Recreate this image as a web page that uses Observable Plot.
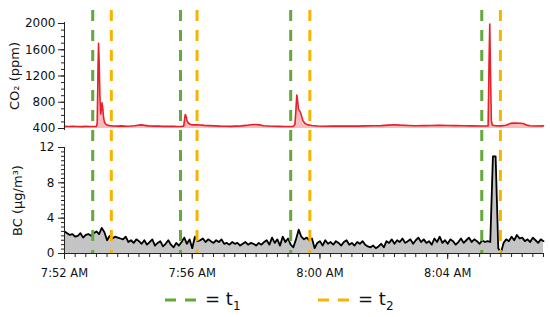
<!DOCTYPE html>
<html><head><meta charset="utf-8">
<script src="https://cdn.jsdelivr.net/npm/d3@7"></script>
<script src="https://cdn.jsdelivr.net/npm/@observablehq/plot@0.6"></script>
<style>
body{margin:0;background:#fff;font-family:"DejaVu Sans",sans-serif;}
#chart{width:550px;height:317px;position:relative;overflow:hidden;background:#fff}
#chart svg{display:block}
#legend{position:relative;height:32px;font-family:"DejaVu Sans",sans-serif;font-size:18px;color:#111}
.item{position:absolute;top:0;height:30px;display:flex;align-items:center}
.item span{margin-left:9px;white-space:nowrap}
.item sub{font-size:12px}
</style></head><body><div id="chart"></div><script>
// ---- data ----
const startTime = new Date(Date.UTC(2000, 0, 1, 7, 52, 0));
const endTime = new Date(Date.UTC(2000, 0, 1, 8, 7, 0));
const t1Seconds = [53, 218, 425, 784];
const t2Seconds = [88, 249, 461, 819];

const co2Seconds = [0,8,16,24,32,40,48,56,60,61.5,63,64,65,66.5,68,69.5,70.5,72,73.5,75,77,80,85,92,100,108,116,124,132,138,144,150,158,166,175,185,195,205,213,220,224,226,227,228.5,230,233,237,242,248,254,262,272,282,292,302,312,322,332,342,350,358,366,374,384,394,404,414,422,430,433,435,436.5,438,439.5,441,443,445,448,452,457,465,475,490,505,520,535,550,565,580,595,610,620,630,645,660,675,690,705,720,735,750,765,780,792,796,797.5,799,800.5,802,804,810,820,830,838,845,855,862,868,875,885,900];
const co2Values = [432,430,434,431,429,432,430,431,433,480,1300,1700,1450,900,620,700,790,700,560,500,470,452,444,438,436,440,435,437,442,450,455,448,440,436,437,433,432,434,431,432,436,560,611,590,520,480,462,455,458,454,448,444,440,436,434,433,436,440,447,458,462,455,442,437,434,432,431,430,433,460,700,908,820,700,677,650,600,520,475,455,445,438,435,437,436,438,436,440,441,444,452,458,452,446,441,444,446,449,446,444,442,440,438,437,440,1300,1990,1200,520,450,442,440,450,478,482,480,476,452,442,438,440];

const bcStepSeconds = 5;
const bcValues = [
  2.5,2.3,2.1,2.2,1.9,2.0,2.3,1.8,2.1,2.2,2.0,
  2.3,2.5,2.2,2.9,2.4,1.5,2.0,1.7,1.9,1.8,
  1.7,1.6,1.9,1.3,1.5,1.2,1.6,1.4,1.1,1.5,
  1.0,1.3,1.6,0.9,1.2,1.4,0.8,1.1,1.5,1.0,0.7,1.2,0.9,1.3,
  1.8,1.1,1.6,0.6,1.9,1.4,
  1.5,1.7,1.3,1.6,1.4,1.2,1.5,1.3,1.6,1.1,
  1.2,1.0,1.3,1.1,1.2,0.9,1.1,1.3,1.0,1.2,1.1,0.9,1.2,1.0,1.3,
  1.5,1.0,1.8,1.2,1.6,0.9,1.9,1.3,1.7,1.0,
  0.7,1.6,2.7,
  1.9,1.6,1.8,1.5,1.7,
  0.6,
  1.2,1.4,0.9,1.5,1.1,1.3,1.0,1.4,1.2,0.9,1.3,1.5,1.0,1.2,0.9,1.3,1.1,1.4,1.0,
  0.8,0.7,0.9,0.6,0.8,1.1,0.7,
  1.4,1.2,1.6,1.1,1.5,1.3,1.7,1.2,1.4,1.6,1.1,1.5,1.8,1.3,1.6,1.2,
  1.4,1.0,1.7,1.3,1.9,1.2,1.5,1.1,1.6,1.4,1.0,1.3,1.7,1.2,1.5,1.8,1.3,1.6,1.4,1.1,1.5,1.3,1.4,
  1.3,
  11.0,11.0,
  0.6,0.1,
  1.2,1.6,1.4,1.9,1.5,2.1,1.7,1.8,1.4,1.6,1.3,1.8,1.5,1.2,1.6,1.4
];

const co2Ticks = [400, 800, 1200, 1600, 2000];
const co2MinorStep = 100;
const bcTicks = [0, 4, 8, 12];
const bcMinorStep = 0.5;
const timeTickMinutes = [0, 4, 8, 12];   // 7:52, 7:56, 8:00, 8:04
const timeMinorStepSeconds = 20;

// ---- styling ----
const green = "#62a83a";
const orange = "#f6b400";
const W = 550, ML = 64, MR = 7;

const toDate = s => new Date(startTime.getTime() + s * 1000);
const co2 = co2Seconds.map((s, i) => ({time: toDate(s), value: co2Values[i]}));
const bc = bcValues.map((v, i) => ({time: toDate(i * bcStepSeconds), value: v}));
const t1 = t1Seconds.map(toDate);
const t2 = t2Seconds.map(toDate);
const xDomain = [startTime, endTime];
const co2Domain = [co2Ticks[0], co2Ticks[co2Ticks.length - 1]];
const bcDomain = [bcTicks[0], bcTicks[bcTicks.length - 1]];
const co2Minor = d3.range(co2Domain[0], co2Domain[1] + 1, co2MinorStep);
const bcMinor = d3.range(bcDomain[0], bcDomain[1] + 1e-6, bcMinorStep);
const timeMajor = timeTickMinutes.map(m => toDate(m * 60));
const timeMinor = d3.range(0, (endTime - startTime) / 1000 + 1, timeMinorStepSeconds).map(toDate);
const plain = d => String(d);

const baseStyle = {fontFamily: "DejaVu Sans", fontSize: "12px", color: "#111", background: "transparent", overflow: "visible"};

const topPlot = Plot.plot({
  width: W, height: 135, marginLeft: ML, marginRight: MR, marginTop: 23, marginBottom: 7,
  style: baseStyle,
  x: {type: "utc", domain: xDomain, axis: null},
  y: {domain: co2Domain, axis: null},
  marks: [
    Plot.areaY(co2, {x: "time", y1: co2Domain[0], y2: "value", fill: "#f7bcbc"}),
    Plot.lineY(co2, {x: "time", y: "value", stroke: "#e8202a", strokeWidth: 1.6}),
    Plot.ruleX(t1, {stroke: green, strokeWidth: 3, strokeDasharray: "11,9", insetTop: -13, insetBottom: -7}),
    Plot.ruleX(t2, {stroke: orange, strokeWidth: 3, strokeDasharray: "11,9", insetTop: -13, insetBottom: -7}),
    Plot.ruleX([startTime], {stroke: "#222", insetTop: -1, insetBottom: -2}),
    Plot.axisY(co2Ticks, {tickSize: 6, tickPadding: 3, stroke: "#222", tickFormat: plain, label: null}),
    Plot.axisY(co2Minor, {tickSize: 3, text: null, stroke: "#222", fontSize: 13, label: "CO₂ (ppm)", labelAnchor: "center", labelArrow: "none", labelOffset: 55})
  ]
});

const bottomPlot = Plot.plot({
  width: W, height: 150, marginLeft: ML, marginRight: MR, marginTop: 12, marginBottom: 32,
  style: baseStyle,
  x: {type: "utc", domain: xDomain, axis: null},
  y: {domain: bcDomain, axis: null},
  marks: [
    Plot.areaY(bc, {x: "time", y1: bcDomain[0], y2: "value", fill: "#c4c4c4"}),
    Plot.lineY(bc, {x: "time", y: "value", stroke: "#000", strokeWidth: 1.8}),
    Plot.ruleX(t1, {stroke: green, strokeWidth: 3, strokeDasharray: "11,9", strokeDashoffset: 5, insetTop: -12}),
    Plot.ruleX(t2, {stroke: orange, strokeWidth: 3, strokeDasharray: "11,9", strokeDashoffset: 5, insetTop: -12}),
    Plot.ruleX([startTime], {stroke: "#222"}),
    Plot.ruleY([bcDomain[0]], {stroke: "#222"}),
    Plot.axisY(bcTicks, {tickSize: 6, tickPadding: 4, stroke: "#222", tickFormat: plain, label: null}),
    Plot.axisY(bcMinor, {tickSize: 3, text: null, stroke: "#222", fontSize: 13, label: "BC (μg/m³)", labelAnchor: "center", labelArrow: "none", labelOffset: 52}),
    Plot.axisX(timeMajor, {tickSize: 6, tickPadding: 9, stroke: "#222", fontSize: 11.5, tickFormat: d3.utcFormat("%-I:%M %p"), label: null}),
    Plot.axisX(timeMinor, {tickSize: 4, text: null, label: null, stroke: "#222"})
  ]
});

const chart = document.getElementById("chart");
chart.appendChild(topPlot);
chart.appendChild(bottomPlot);

const legend = document.createElement("div");
legend.id = "legend";
function legendItem(color, left, sub) {
  const item = document.createElement("div");
  item.className = "item";
  item.style.left = left + "px";
  item.innerHTML = `<svg width="31" height="6"><line x1="0" y1="3" x2="31" y2="3" stroke="${color}" stroke-width="3" stroke-dasharray="11,9"/></svg><span>= t<sub>${sub}</sub></span>`;
  legend.appendChild(item);
}
legendItem(green, 165, "1");
legendItem(orange, 318, "2");
chart.appendChild(legend);
</script></body></html>
